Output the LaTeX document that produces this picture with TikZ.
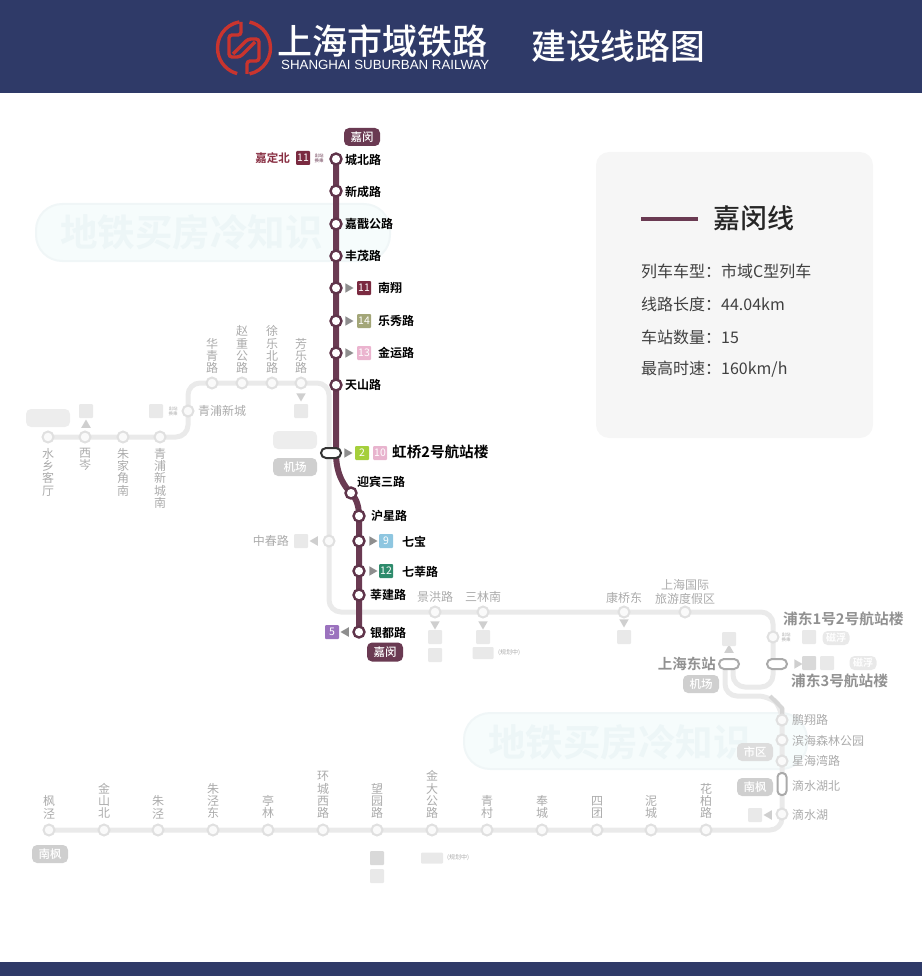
\documentclass[tikz,border=0pt]{standalone}
\usepackage{fontspec}
\setmainfont{Noto Sans CJK SC}[BoldFont=* Bold]
\newfontfamily\medf{Noto Sans CJK SC}[UprightFont=* Medium]
\newfontfamily\latinf{Liberation Sans}
\usetikzlibrary{shapes.geometric,positioning}
\definecolor{navy}{HTML}{2F3A68}
\definecolor{plum}{HTML}{6A3A52}
\definecolor{gline}{HTML}{EAEAEA}
\definecolor{gring}{HTML}{E0E0E0}
\definecolor{gtext}{HTML}{ABABAB}
\definecolor{gbox}{HTML}{E9E9E9}
\definecolor{gpill}{HTML}{CFCFCF}
\definecolor{gtri}{HTML}{8E8E8E}
\definecolor{wmfill}{HTML}{F6FCFC}
\definecolor{wmline}{HTML}{F0F6F7}
\definecolor{wmtext}{HTML}{EDF6F7}
\definecolor{logored}{HTML}{C9342E}
\definecolor{ln11}{HTML}{7A2A40}
\definecolor{ln14}{HTML}{A3A678}
\definecolor{ln13}{HTML}{EBB4CF}
\definecolor{ln2}{HTML}{A5CF3C}
\definecolor{ln10}{HTML}{E8B4CE}
\definecolor{ln9}{HTML}{8EC6E0}
\definecolor{ln12}{HTML}{2E8B6C}
\definecolor{ln5}{HTML}{9B72BE}
\pgfdeclarelayer{wm}\pgfdeclarelayer{lines}
\pgfsetlayers{wm,lines,main}
\newcommand{\fs}[1]{\fontsize{#1}{#1}\selectfont}
\tikzset{
  gst/.style={circle,draw=gring,fill=black!2,line width=2pt,minimum size=11pt,inner sep=0pt},
  dst/.style={circle,draw=plum!90!black,fill=white,line width=2.4pt,minimum size=11pt,inner sep=0pt},
  glab/.style={font=\fs{12},text=gtext,inner sep=0pt},
  vlab/.style={font=\fontsize{12}{12.3}\selectfont,text=gtext,inner sep=0pt,align=center},
  dlab/.style={font=\bfseries\fs{12},text=black,inner sep=0pt,anchor=west},
  gbig/.style={font=\bfseries\fs{14.7},text=gtext!85!black,inner sep=0pt,anchor=west},
  sqbox/.style={minimum size=14pt,inner sep=0pt,rounded corners=1pt,font=\fs{10.5},text=white},
  gsq/.style={sqbox,fill=gbox},
  pill/.style={rounded corners=5pt,inner sep=0pt,minimum width=36pt,minimum height=18pt,font=\medf\fs{11.5},text=white},
  tri/.style={regular polygon,regular polygon sides=3,inner sep=0pt,minimum size=11pt,fill=gtri},
  gtri/.style={tri,fill=gpill},
  tiny/.style={font=\fontsize{4.5}{5}\selectfont,inner sep=0pt,align=center},
  cardt/.style={font=\fs{16},text=black!75,inner sep=0pt,anchor=west},
  wmbox/.style={draw=wmline,fill=wmfill,line width=2pt,rounded corners=26pt},
  wmt/.style={font=\bfseries\fs{37.5},text=wmtext,inner sep=0pt,anchor=west},
  gl/.style={draw=gline,line width=5pt,rounded corners=12pt},
}
\begin{document}
\begin{tikzpicture}[x=1pt,y=-1pt]
\useasboundingbox (0,0) rectangle (922,976);
% header and footer
\fill[navy] (0,0) rectangle (922,93);
\fill[navy] (0,962) rectangle (922,976);
% logo
\begin{scope}[draw=logored,line width=3.4pt,rounded corners=3pt]
\draw (244,48) ++(100:26.5pt) arc[start angle=100,end angle=255,radius=26.5pt];
\draw (244,48) ++(-78:26.5pt) arc[start angle=-78,end angle=78,radius=26.5pt];
\draw (241,22) -- (241,35) -- (229,35) -- (229,57) -- (240,57) -- (255,42);
\draw (247,74) -- (247,61) -- (259,61) -- (259,39) -- (248,39) -- (233,54);
\end{scope}
\node[font=\medf\fs{35},text=white,inner sep=0pt,anchor=west] (brand) at (277,41) {上海市域铁路};
\node[font=\latinf\fs{13.3},text=white,inner sep=0pt,anchor=west] (brandEn) at (281,65) {SHANGHAI SUBURBAN RAILWAY};
\node[font=\medf\fs{34.8},text=white,inner sep=0pt,anchor=west] (title) at (531,46) {建设线路图};
% info card
\fill[black!3.5,rounded corners=13pt] (596,152) rectangle (873,438);
\coordinate (k1) at (641,219); \coordinate (k2) at (698,219);
\draw[plum,line width=4pt] (k1) -- (k2);
\node[font=\medf\fs{27},text=black!85,inner sep=0pt,anchor=west] (cardTitle) at (713,218) {嘉闵线};
\node[cardt] (c1) at (641,271) {列车车型：市域C型列车};
\node[cardt] (c2) at (641,304) {线路长度：44.04km};
\node[cardt] (c3) at (641,337) {车站数量：15};
\node[cardt] (c4) at (641,369) {最高时速：160km/h};
% watermarks
\begin{pgfonlayer}{wm}
\draw[wmbox] (36,204) rectangle (390,261);
\node[wmt] (wm1) at (60,232) {地铁买房冷知识};
\draw[wmbox] (464,713) rectangle (807,769);
\node[wmt] (wm2) at (488,742) {地铁买房冷知识};
\end{pgfonlayer}
% grey stations
\foreach \n/\x/\y in {w1/48/437,w2/85/437,w3/123/437,w4/160/437,w5/188/411,w6/212/383,w7/242/383,w8/272/383,w9/301/383,z1/329/541,s1/435/612,s2/483/612,s3/624/612,s4/685/612,p1/773/637,e1/782/720,e2/782/740,e3/782/761,e5/782/814}{
  \node[gst] (\n) at (\x,\y) {};
}
\foreach \n/\x in {b1/49,b2/104,b3/158,b4/213,b5/268,b6/323,b7/377,b8/432,b9/487,b10/542,b11/597,b12/651,b13/706}{
  \node[gst] (\n) at (\x,830) {};
}
\node[draw=gtri!75,fill=white,line width=2pt,rounded corners=5pt,minimum width=20pt,minimum height=10pt,inner sep=0pt] (pdong3) at (777,664) {};
\node[draw=gtri!75,fill=white,line width=2pt,rounded corners=5pt,minimum width=20pt,minimum height=10pt,inner sep=0pt] (shdong) at (729,664) {};
\node[draw=gtri!75,fill=white,line width=2pt,rounded corners=4pt,minimum width=9pt,minimum height=22pt,inner sep=0pt] (e4) at (782,784) {};
% corners of the grey lines
\coordinate (g1) at (188,437); \coordinate (g2) at (188,383); \coordinate (g3) at (329,383);
\coordinate (g4) at (329,612); \coordinate (g5) at (773,612); \coordinate (g6) at (773,687);
\coordinate (g7) at (733,687); \coordinate (g8) at (733,670); \coordinate (g9) at (725,670);
\coordinate (g10) at (725,696); \coordinate (g11) at (770,696); \coordinate (g12) at (782,708);
\coordinate (g13) at (782,830);
\begin{pgfonlayer}{lines}
\draw[gl] (w1.center) -- (g1) -- (g2) -- (g3) -- (g4) -- (g5) -- (g6) -- (g7) -- (g8);
\draw[gl] (g9) -- (g10) -- (g11) -- (g12) -- (e1.center) -- (g13) -- (b1.center);
\draw[gpill!85,line width=4pt] (g11) -- (g12) -- (e1.center);
\end{pgfonlayer}
% west labels
\foreach \n/\x/\t in {w1/48/{水\\乡\\客\\厅},w2/85/{西\\岑},w3/123/{朱\\家\\角\\南},w4/160/{青\\浦\\新\\城\\南}}{
  \node[vlab,anchor=north] (l\n) at (\x,448) {\t};
}
\foreach \n/\x/\t in {w6/212/{华\\青\\路},w7/242/{赵\\重\\公\\路},w8/272/{徐\\乐\\北\\路},w9/301/{芳\\乐\\路}}{
  \node[vlab,anchor=south] (l\n) at (\x,374) {\t};
}
\node[font=\fs{12},text=gtext,inner sep=0pt,anchor=west] (lw5) at (198,411) {青浦新城};
\node[gsq] (bw2) at (86,411) {};
\node[gtri] (tw2) at (86,425) {};
\node[gsq] (bw4) at (156,411) {};
\node[tiny,text=gtext] (tw4) at (173,411) {出站\\换乘};
\node[gtri,shape border rotate=180] (tw9) at (301,396) {};
\node[gsq] (bw9) at (301,411) {};
\node[pill,fill=gbox!80,minimum width=44pt] (pw) at (48,418) {};
\node[pill,fill=gbox!80,minimum width=44pt] (pv1) at (295,440) {};
\node[pill,fill=gpill,minimum width=44pt] (pv2) at (295,467) {机场};
% Zhongchun road
\node[gtri,shape border rotate=90] (tz) at (315,541) {};
\node[gsq] (bz) at (301,541) {};
\node[glab,anchor=east] (lz) at (289,541) {中春路};
% south row
\node[glab] (ls1) at (435,597) {景洪路};
\node[gtri,shape border rotate=180] (ts1) at (435,624) {};
\node[gsq] (bs1a) at (435,637) {};
\node[gsq] (bs1b) at (435,655) {};
\node[glab] (ls2) at (483,597) {三林南};
\node[gtri,shape border rotate=180] (ts2) at (483,624) {};
\node[gsq] (bs2) at (483,637) {};
\node[gsq,minimum width=21pt,minimum height=12pt] (ps2) at (483,653) {};
\node[font=\fs{6},text=gtext,inner sep=0pt,anchor=west] (lps2) at (498,653) {(规划中)};
\node[glab] (ls3) at (624,598) {康桥东};
\node[gtri,shape border rotate=180] (ts3) at (624,622) {};
\node[gsq] (bs3) at (624,637) {};
\node[font=\fontsize{12}{14}\selectfont,text=gtext,inner sep=0pt,align=center,anchor=south] (ls4) at (685,605) {上海国际\\旅游度假区};
% Pudong airport area
\node[gbig] (lp1) at (783,619) {浦东1号2号航站楼};
\node[tiny,text=gtext] (tp1) at (786,637) {出站\\换乘};
\node[gsq] (bp1) at (809,637) {};
\node[pill,fill=gbox,minimum width=27pt,minimum height=14pt,font=\bfseries\fs{10}] (mp1) at (836,638) {磁浮};
\node[gtri,shape border rotate=-90] (tp3) at (797,664) {};
\node[gsq,fill=gpill!80] (bp3a) at (809,663) {};
\node[gsq] (bp3b) at (827,663) {};
\node[pill,fill=gbox,minimum width=27pt,minimum height=14pt,font=\bfseries\fs{10}] (mp3) at (863,663) {磁浮};
\node[gbig] (lp3) at (791,681) {浦东3号航站楼};
\node[gbig,anchor=east,font=\bfseries\fs{14.5}] (lsd) at (716,664) {上海东站};
\node[gtri] (tsd) at (729,650) {};
\node[gsq] (bsd) at (729,639) {};
\node[pill,fill=gpill] (psd) at (701,684) {机场};
\node[glab,anchor=west] (le1) at (792,720) {鹏翔路};
\node[glab,anchor=west] (le2) at (792,741) {滨海森林公园};
\node[glab,anchor=west] (le3) at (792,761) {星海湾路};
\node[glab,anchor=west] (le4) at (792,786) {滴水湖北};
\node[glab,anchor=west] (le5) at (792,815) {滴水湖};
\node[pill,fill=gpill!70] (pe3) at (755,752) {市区};
\node[pill,fill=gpill] (pe4) at (755,787) {南枫};
\node[gtri,shape border rotate=90] (te5) at (769,815) {};
\node[gsq] (be5) at (755,815) {};
% bottom row labels
\foreach \n/\x/\t in {b1/49/{枫\\泾},b2/104/{金\\山\\北},b3/158/{朱\\泾},b4/213/{朱\\泾\\东},b5/268/{亭\\林},b6/323/{环\\城\\西\\路},b7/377/{望\\园\\路},b8/432/{金\\大\\公\\路},b9/487/{青\\村},b10/542/{奉\\城},b11/597/{四\\团},b12/651/{泥\\城},b13/706/{花\\柏\\路}}{
  \node[vlab,anchor=south] (l\n) at (\x,819) {\t};
}
\node[pill,fill=gpill] (pb1) at (50,854) {南枫};
\node[gsq,fill=gpill!80] (bb7a) at (377,858) {};
\node[gsq] (bb7b) at (377,876) {};
\node[gsq,minimum width=22pt,minimum height=11pt] (pb8) at (432,858) {};
\node[font=\fs{6},text=gtext,inner sep=0pt,anchor=west] (lpb8) at (447,858) {(规划中)};
% main (Jiamin) line
\foreach \n/\y in {m1/159,m2/191,m3/224,m4/256,m5/288,m6/321,m7/353,m8/385}{
  \node[dst] (\n) at (336,\y) {};
}
\foreach \n/\y in {m11/516,m12/541,m13/571,m14/595,m15/632}{
  \node[dst] (\n) at (359,\y) {};
}
\node[dst] (m10) at (351,493) {};
\node[draw=black!80,fill=white,line width=2pt,rounded corners=5pt,minimum width=20pt,minimum height=10pt,inner sep=0pt] (m9) at (331,453) {};
\coordinate (mj) at (336,453);
\begin{pgfonlayer}{lines}
\draw[plum,line width=6pt] (m1.center) -- (mj) .. controls (336,474) and (344,486) .. (m10.center) .. controls (355,497) and (359,504) .. (m11.center) -- (m15.center);
\end{pgfonlayer}
\node[pill,fill=plum] (tTop) at (362,137) {嘉闵};
\node[pill,fill=plum,minimum height=19pt] (tBot) at (385,652) {嘉闵};
\node[dlab] (d1) at (345,160) {城北路};
\node[dlab] (d2) at (345,192) {新成路};
\node[dlab] (d3) at (345,224) {嘉戬公路};
\node[dlab] (d4) at (345,256) {丰茂路};
\node[dlab] (d8) at (345,385) {天山路};
\node[font=\bfseries\fs{11.5},text=plum!80!red,inner sep=0pt,anchor=east] (dj) at (290,158) {嘉定北};
\node[sqbox,fill=ln11] (x11a) at (303,158) {11};
\node[tiny,text=plum] (xt) at (319,158) {出站\\换乘};
% transfers on the upper section
\node[tri,shape border rotate=-90] (t5) at (348,288) {};
\node[sqbox,fill=ln11] (x11b) at (364,288) {11};
\node[dlab] (d5) at (378,288) {南翔};
\node[tri,shape border rotate=-90] (t6) at (348,321) {};
\node[sqbox,fill=ln14] (x14) at (364,321) {14};
\node[dlab] (d6) at (378,321) {乐秀路};
\node[tri,shape border rotate=-90] (t7) at (348,353) {};
\node[sqbox,fill=ln13] (x13) at (364,353) {13};
\node[dlab] (d7) at (378,353) {金运路};
% Hongqiao T2
\node[tri,shape border rotate=-90] (t9) at (347,453) {};
\node[sqbox,fill=ln2] (x2) at (362,453) {2};
\node[sqbox,fill=ln10] (x10) at (380,453) {10};
\node[font=\bfseries\fs{14.6},text=black,inner sep=0pt,anchor=west] (d9) at (392,452) {虹桥2号航站楼};
% lower section
\node[dlab] (d10) at (357,482) {迎宾三路};
\node[dlab] (d11) at (371,516) {沪星路};
\node[tri,shape border rotate=-90] (t12) at (372,541) {};
\node[sqbox,fill=ln9] (x9) at (386,541) {9};
\node[dlab] (d12) at (402,542) {七宝};
\node[tri,shape border rotate=-90] (t13) at (372,571) {};
\node[sqbox,fill=ln12] (x12) at (386,571) {12};
\node[dlab] (d13) at (402,572) {七莘路};
\node[dlab] (d14) at (370,595) {莘建路};
\node[dlab] (d15) at (370,633) {银都路};
\node[tri,shape border rotate=90] (t15) at (346,632) {};
\node[sqbox,fill=ln5] (x5) at (332,632) {5};
\end{tikzpicture}
\end{document}
